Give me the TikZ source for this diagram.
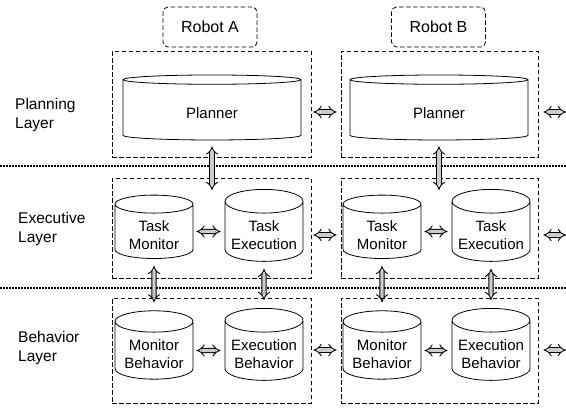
\documentclass[tikz,border=0pt]{standalone}
\usepackage{fontspec}
\setmainfont{Liberation Sans}
\usetikzlibrary{shapes.geometric,arrows.meta}

% text sits a little below the middle of each drum
\newcommand{\drumtext}[1]{\raisebox{-5bp}[\height][\depth]{\begin{tabular}{@{}c@{}}#1\end{tabular}}}

\tikzset{
  layerbox/.style={draw,dash pattern=on 4.5bp off 2.5bp,line width=0.8pt,minimum width=199bp},
  robot/.style={draw,dash pattern=on 4.5bp off 2.5bp,line width=0.8pt,rounded corners=5bp,
    minimum width=94bp,minimum height=40bp,font=\fontsize{16bp}{18bp}\selectfont},
  drum/.style={draw,line width=0.8pt,cylinder,shape border rotate=90,align=center,inner sep=0pt,
    font=\fontsize{15bp}{18bp}\selectfont},
  bigdrum/.style={drum,minimum width=178bp,minimum height=65bp,aspect=0.18},
  smalldrum/.style={drum,minimum width=78bp,minimum height=63bp,aspect=0.36},
  link/.style={double=gray!40,double distance=3.4bp,line width=0.9pt,{Implies}-{Implies}},
  sepline/.style={line width=1.6pt,dash pattern=on 1.6bp off 1.4bp},
  lname/.style={align=left,anchor=west,inner sep=0pt,font=\fontsize{15.5bp}{19bp}\selectfont}
}

\begin{document}
\begin{tikzpicture}[x=1bp,y=-1bp]

  \useasboundingbox (0,0) rectangle (566,410);

  \node[robot] (robA) at (210,27) {Robot A};
  \node[robot] (robB) at (438.5,27) {Robot B};

  % layer boxes
  \node[layerbox,minimum height=106bp] (plA) at (211.5,104) {};
  \node[layerbox,minimum height=100bp] (exA) at (211.5,228) {};
  \node[layerbox,minimum height=105bp] (beA) at (211.5,350.5) {};
  \node[layerbox,minimum height=106bp,minimum width=197bp] (plB) at (439.5,104) {};
  \node[layerbox,minimum height=100bp,minimum width=197bp] (exB) at (439.5,228) {};
  \node[layerbox,minimum height=105bp,minimum width=197bp] (beB) at (439.5,350.5) {};

  \draw[sepline] (0,166) -- (566,166);
  \draw[sepline] (0,288) -- (566,288);

  \node[lname] (lpl) at (15,115) {Planning\\Layer};
  \node[lname] (lex) at (18,229) {Executive\\Layer};
  \node[lname] (lbe) at (18,348) {Behavior\\Layer};

  \node[bigdrum] (planA) at (212,110) {\drumtext{Planner}};
  \node[bigdrum] (planB) at (439,110) {\drumtext{Planner}};

  \node[smalldrum] (tmA) at (154,231.5) {\drumtext{Task\\Monitor}};
  \node[smalldrum] (teA) at (264,231.5) {\drumtext{Task\\Execution}};
  \node[smalldrum] (mbA) at (154,350.5) {\drumtext{Monitor\\Behavior}};
  \node[smalldrum] (ebA) at (264,350.5) {\drumtext{Execution\\Behavior}};
  \node[smalldrum] (tmB) at (382,231.5) {\drumtext{Task\\Monitor}};
  \node[smalldrum] (teB) at (491,231.5) {\drumtext{Task\\Execution}};
  \node[smalldrum] (mbB) at (382,350.5) {\drumtext{Monitor\\Behavior}};
  \node[smalldrum] (ebB) at (491,350.5) {\drumtext{Execution\\Behavior}};

  \coordinate (inA) at (212,190);
  \coordinate (inB) at (439,190);
  \coordinate (outP) at (566,112);
  \coordinate (outE) at (566,235);
  \coordinate (outB) at (566,350);

  \draw[link,shorten <=6bp] (planA.south) -- (inA);
  \draw[link,shorten <=6bp] (planB.south) -- (inB);

  \draw[link,shorten <=2bp,shorten >=4bp] (plA.east |- outP) -- (plB.west |- outP);
  \draw[link,shorten <=2bp,shorten >=4bp] (exA.east |- outE) -- (exB.west |- outE);
  \draw[link,shorten <=2bp,shorten >=4bp] (beA.east |- outB) -- (beB.west |- outB);
  \draw[link,shorten <=5bp] (plB.east |- outP) -- (outP);
  \draw[link,shorten <=5bp] (exB.east |- outE) -- (outE);
  \draw[link,shorten <=5bp] (beB.east |- outB) -- (outB);

  \draw[link,shorten <=3bp,shorten >=4bp] (tmA) -- (teA);
  \draw[link,shorten <=3bp,shorten >=4bp] (mbA) -- (ebA);
  \draw[link,shorten <=3bp,shorten >=4bp] (tmB) -- (teB);
  \draw[link,shorten <=3bp,shorten >=4bp] (mbB) -- (ebB);

  \draw[link,shorten <=7bp,shorten >=8bp] (tmA.south) -- (mbA.north);
  \draw[link,shorten <=7bp,shorten >=8bp] (teA.south) -- (ebA.north);
  \draw[link,shorten <=7bp,shorten >=8bp] (tmB.south) -- (mbB.north);
  \draw[link,shorten <=7bp,shorten >=8bp] (teB.south) -- (ebB.north);

\end{tikzpicture}
\end{document}
